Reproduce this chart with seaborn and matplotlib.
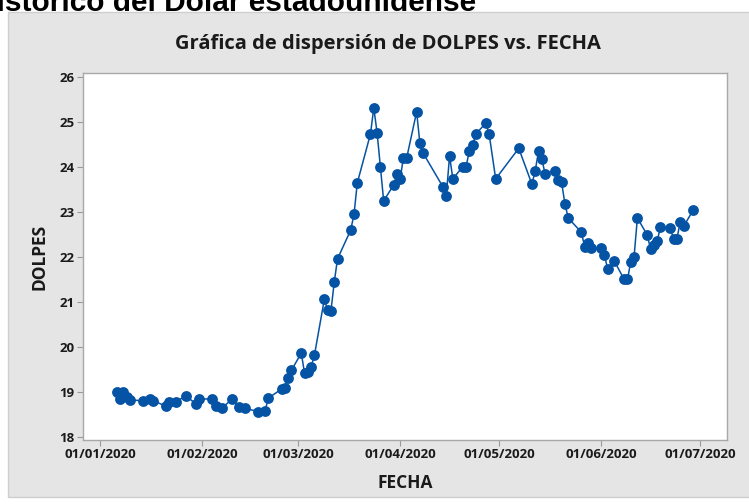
import pandas as pd
import numpy as np
import matplotlib
matplotlib.use("Agg")
import matplotlib.pyplot as plt
import matplotlib.dates as mdates
from matplotlib.patches import Rectangle
import seaborn as sns

sns.set_theme(style="white")
plt.rcParams["font.family"] = ["Open Sans", "DejaVu Sans"]

# -------------------------------------------------------
# data (USD/MXN 2020)
# -------------------------------------------------------

fechas = [
    "2020-01-06", "2020-01-07", "2020-01-08", "2020-01-09", "2020-01-10",
    "2020-01-14", "2020-01-16", "2020-01-17", "2020-01-21", "2020-01-22",
    "2020-01-24", "2020-01-27", "2020-01-30", "2020-01-31", "2020-02-04",
    "2020-02-05", "2020-02-07", "2020-02-10", "2020-02-12", "2020-02-14",
    "2020-02-18", "2020-02-20", "2020-02-21", "2020-02-25", "2020-02-26",
    "2020-02-27", "2020-02-28", "2020-03-02", "2020-03-03", "2020-03-04",
    "2020-03-05", "2020-03-06", "2020-03-09", "2020-03-10", "2020-03-11",
    "2020-03-12", "2020-03-13", "2020-03-17", "2020-03-18", "2020-03-19",
    "2020-03-23", "2020-03-24", "2020-03-25", "2020-03-26", "2020-03-27",
    "2020-03-30", "2020-03-31", "2020-04-01", "2020-04-02", "2020-04-03",
    "2020-04-06", "2020-04-07", "2020-04-08", "2020-04-14", "2020-04-15",
    "2020-04-16", "2020-04-17", "2020-04-20", "2020-04-21", "2020-04-22",
    "2020-04-23", "2020-04-24", "2020-04-27", "2020-04-28", "2020-04-30",
    "2020-05-07", "2020-05-11", "2020-05-12", "2020-05-13", "2020-05-14",
    "2020-05-15", "2020-05-18", "2020-05-19", "2020-05-20", "2020-05-21",
    "2020-05-22", "2020-05-26", "2020-05-27", "2020-05-28", "2020-05-29",
    "2020-06-01", "2020-06-02", "2020-06-03", "2020-06-05", "2020-06-08",
    "2020-06-09", "2020-06-10", "2020-06-11", "2020-06-12", "2020-06-15",
    "2020-06-16", "2020-06-17", "2020-06-18", "2020-06-19", "2020-06-22",
    "2020-06-23", "2020-06-24", "2020-06-25", "2020-06-26", "2020-06-29",
]

dolpes = [
    18.99, 18.85, 18.99, 18.88, 18.82,
    18.80, 18.83, 18.80, 18.68, 18.78,
    18.78, 18.91, 18.73, 18.84, 18.84,
    18.68, 18.64, 18.84, 18.67, 18.63,
    18.56, 18.57, 18.86, 19.06, 19.09,
    19.30, 19.48, 19.86, 19.41, 19.45,
    19.56, 19.82, 21.06, 20.82, 20.80,
    21.44, 21.96, 22.60, 22.95, 23.65,
    24.74, 25.32, 24.77, 24.01, 23.25,
    23.60, 23.84, 23.74, 24.21, 24.21,
    25.23, 24.53, 24.31, 23.56, 23.36,
    24.25, 23.74, 24.01, 24.01, 24.36,
    24.49, 24.74, 24.98, 24.74, 23.74,
    24.42, 23.62, 23.92, 24.36, 24.18,
    23.85, 23.92, 23.72, 23.66, 23.19,
    22.87, 22.55, 22.23, 22.32, 22.19,
    22.21, 22.04, 21.73, 21.91, 21.50,
    21.50, 21.90, 22.01, 22.87, 22.49,
    22.17, 22.27, 22.35, 22.67, 22.64,
    22.40, 22.40, 22.79, 22.68, 23.05,
]

x_ticks = ["2020-01-01", "2020-02-01", "2020-03-01", "2020-04-01",
           "2020-05-01", "2020-06-01", "2020-07-01"]
y_ticks = [18, 19, 20, 21, 22, 23, 24, 25, 26]

df = pd.DataFrame({"FECHA": pd.to_datetime(fechas), "DOLPES": dolpes})

# -------------------------------------------------------
# figure - minitab style gray panel
# -------------------------------------------------------

blue = "#0553A4"
panel = "#E5E5E5"

fig = plt.figure(figsize=(7.49, 5.04), dpi=100, facecolor="white")
bg = Rectangle((8 / 749, 1 - 497 / 504), 1.0, (497 - 12) / 504,
               transform=fig.transFigure, facecolor=panel,
               edgecolor="#CFCFCF", linewidth=1.0, zorder=-10)
fig.add_artist(bg)

# heading of the document above the chart, cut off by the crop
fig.text(476 / 749, 1 - 11 / 504, "Histórico del Dólar estadounidense",
         ha="right", va="baseline", fontsize=21.5, fontweight="bold",
         family=["Liberation Sans", "DejaVu Sans"], color="black")

ax = fig.add_axes([83 / 749, 1 - 440 / 504, (727 - 83) / 749, (440 - 73) / 504])
ax.set_facecolor("white")
ax.set_zorder(1)

sns.lineplot(data=df, x="FECHA", y="DOLPES", ax=ax, color=blue,
             linewidth=1.1, marker="o", markersize=7.8,
             markeredgewidth=0, markerfacecolor=blue)

start = mdates.date2num(pd.Timestamp("2020-01-01"))
ax.set_xlim(start - 5.25, start + 190.2)
ax.set_ylim(17.927, 26.096)

ax.set_xticks(pd.to_datetime(x_ticks))
ax.xaxis.set_major_formatter(mdates.DateFormatter("%d/%m/%Y"))
ax.set_yticks(y_ticks)

for s in ax.spines.values():
    s.set_color("#A8A8A8")
    s.set_linewidth(1.0)

ax.tick_params(axis="both", which="major", direction="out", length=4,
               width=0.8, color="#9A9A9A", labelsize=9.5, pad=2,
               left=True, bottom=True)
for lbl in ax.get_xticklabels() + ax.get_yticklabels():
    lbl.set_fontweight("bold")
    lbl.set_color("#1A1A1A")

ax.set_xlabel("FECHA", fontsize=12.5, fontweight="bold", color="#1A1A1A")
ax.set_ylabel("DOLPES", fontsize=12.5, fontweight="bold", color="#1A1A1A")
ax.xaxis.set_label_coords(0.5, -0.093)
ax.yaxis.set_label_coords(-0.054, 0.5)

fig.text(388 / 749, 1 - 44 / 504, "Gráfica de dispersión de DOLPES vs. FECHA",
         ha="center", va="center", fontsize=14.5, fontweight="bold",
         color="#1A1A1A")

fig.savefig("out.png", dpi=100, facecolor="white")
